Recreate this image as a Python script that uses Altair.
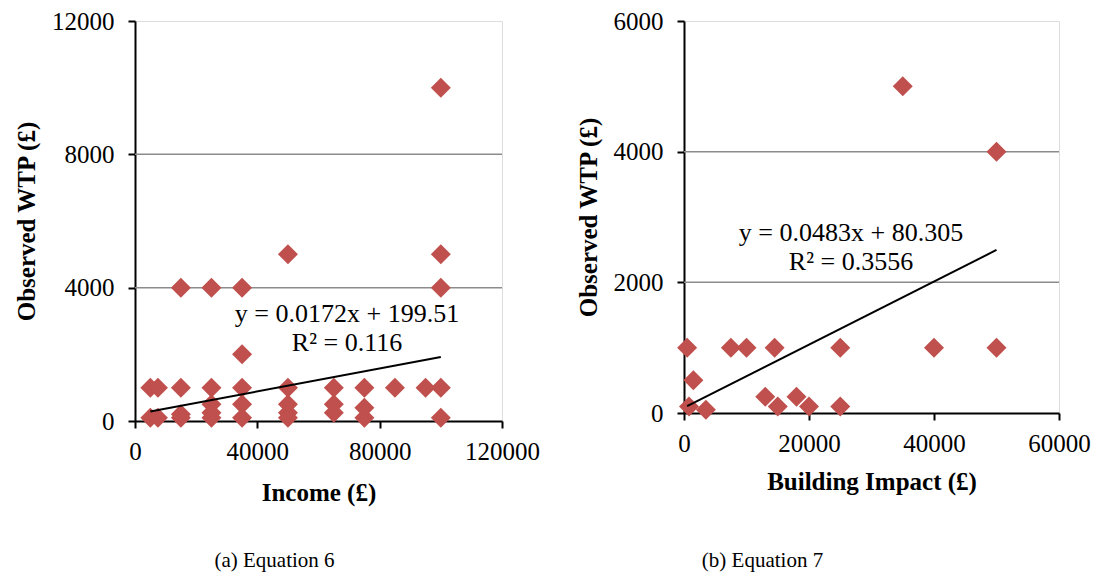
import altair as alt
import pandas as pd

# Equation 6: observed willingness to pay against household income
income = [5000, 5000, 7500, 7500,
          15000, 15000, 15000, 15000,
          25000, 25000, 25000, 25000, 25000,
          35000, 35000, 35000, 35000, 35000,
          50000, 50000, 50000, 50000, 50000,
          65000, 65000, 65000,
          75000, 75000, 75000,
          85000, 95000,
          100000, 100000, 100000, 100000, 100000]
wtp_income = [1000, 100, 1000, 100,
              4000, 1000, 200, 100,
              4000, 1000, 500, 250, 100,
              4000, 2000, 1000, 500, 100,
              5000, 1000, 500, 250, 100,
              1000, 500, 250,
              1000, 400, 100,
              1000, 1000,
              10000, 5000, 4000, 1000, 100]

# Equation 7: observed willingness to pay against building impact
impact = [500, 1500, 800, 3500, 7500, 10000, 14500, 13000, 15000,
          18000, 20000, 25000, 25000, 35000, 40000, 50000, 50000]
wtp_impact = [1000, 500, 100, 50, 1000, 1000, 1000, 250, 100,
              250, 100, 1000, 100, 5000, 1000, 4000, 1000]

# Fitted linear trends (slope, intercept, R²)
fit_a = (0.0172, 199.51, "0.116")
fit_b = (0.0483, 80.305, "0.3556")

ticks_a_x = [0, 40000, 80000, 120000]
ticks_a_y = [0, 4000, 8000, 12000]
ticks_b_x = [0, 20000, 40000, 60000]
ticks_b_y = [0, 2000, 4000, 6000]

MARK = "#C0504D"
FONT = "Liberation Serif"


def panel(xs, ys, fit, xticks, yticks, xtitle, caption, w, h, eq_pos,
          cap_dx, cap_offset, x_title_pad):
    pts = pd.DataFrame({"x": xs, "y": ys})
    slope, icpt, r2 = fit
    x0, x1 = min(xs), max(xs)
    trend = pd.DataFrame({"x": [x0, x1], "y": [slope * x0 + icpt, slope * x1 + icpt]})
    grid = pd.DataFrame({"y": yticks[1:-1]})

    xs_ = alt.Scale(domain=[xticks[0], xticks[-1]], nice=False, zero=False)
    ys_ = alt.Scale(domain=[yticks[0], yticks[-1]], nice=False)

    common = dict(grid=False, format="d",
                  labelFont=FONT, labelFontSize=25, labelColor="black",
                  titleFont=FONT, titleFontSize=25, titleFontWeight="bold",
                  titleColor="black", domainColor="black", domainWidth=2,
                  tickColor="black", tickWidth=2, tickSize=7,
                  labelFlush=False, labelOverlap=False)
    xaxis = alt.Axis(values=xticks, title=xtitle, titlePadding=x_title_pad,
                     labelPadding=11, **common)
    yaxis = alt.Axis(values=yticks, title="Observed WTP (£)", titlePadding=12,
                     labelPadding=14, **common)

    gridlines = alt.Chart(grid).mark_rule(color="#8c8c8c", strokeWidth=1.5).encode(
        y=alt.Y("y:Q", scale=ys_, axis=yaxis)
    )
    dots = alt.Chart(pts).mark_point(shape="diamond", filled=True, size=400,
                                     color=MARK, opacity=1).encode(
        x=alt.X("x:Q", scale=xs_, axis=xaxis),
        y=alt.Y("y:Q", scale=ys_, axis=yaxis),
    )
    line = alt.Chart(trend).mark_line(color="black", strokeWidth=2).encode(
        x=alt.X("x:Q", scale=xs_, axis=xaxis),
        y=alt.Y("y:Q", scale=ys_, axis=yaxis),
    )
    eq_text = f"y = {slope}x + {icpt}\nR² = {r2}"
    label = alt.Chart(pd.DataFrame({"t": [eq_text]})).mark_text(
        font=FONT, fontSize=26, color="black", lineBreak="\n", lineHeight=29,
        align="center", baseline="middle",
    ).encode(text="t:N", x=alt.value(eq_pos[0]), y=alt.value(eq_pos[1]))

    return alt.layer(gridlines, dots, line, label).properties(
        width=w, height=h,
        title=alt.TitleParams(caption, orient="bottom", font=FONT, fontSize=21,
                              fontWeight="normal", color="black",
                              offset=cap_offset, dx=cap_dx),
    )


left = panel(income, wtp_income, fit_a, ticks_a_x, ticks_a_y, "Income (£)",
             "(a) Equation 6", 367, 400, (212, 293), -44, 45, 16)
right = panel(impact, wtp_impact, fit_b, ticks_b_x, ticks_b_y, "Building Impact (£)",
              "(b) Equation 7", 375, 392, (167, 212), -109, 56, 13)

chart = alt.hconcat(left, right, spacing=35).properties(
    padding={"left": 14, "top": 8, "right": 0, "bottom": 0}
).configure_view(stroke=None).configure(background="white")

chart.save("out.html", embed_options={"renderer": "svg", "actions": False})
